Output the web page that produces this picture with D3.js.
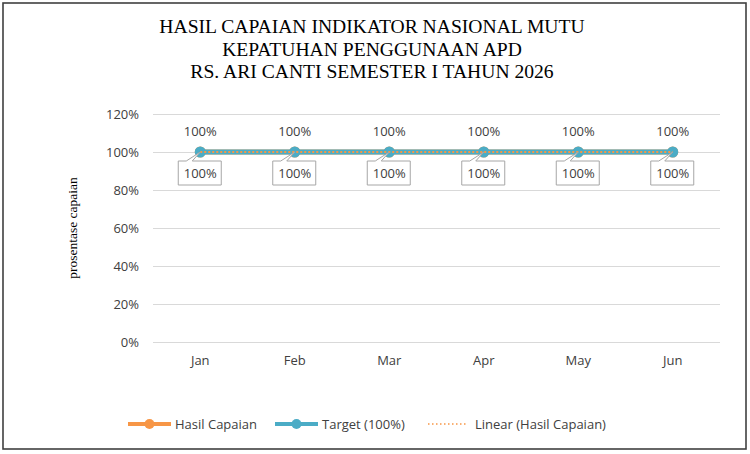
<!DOCTYPE html>
<html>
<head>
<meta charset="utf-8">
<script src="https://cdn.jsdelivr.net/npm/d3@7"></script>
<style>
  body { margin: 0; background: #fff; }
  svg { display: block; }
  text { fill: #404040; }
</style>
</head>
<body>
<div id="chart"></div>
<script>
const months = ["Jan", "Feb", "Mar", "Apr", "May", "Jun"]
const hasilCapaian = [1, 1, 1, 1, 1, 1]
const target = [1, 1, 1, 1, 1, 1]
const yTicks = [0, 0.2, 0.4, 0.6, 0.8, 1.0, 1.2]
const titleLines = [
  "HASIL CAPAIAN INDIKATOR NASIONAL MUTU",
  "KEPATUHAN PENGGUNAAN APD",
  "RS. ARI CANTI SEMESTER I TAHUN 2026"
]
const legendItems = ["Hasil Capaian", "Target (100%)", "Linear (Hasil Capaian)"]

const width = 750
const height = 454
const margin = {top: 114, right: 30, bottom: 112, left: 153}
const orange = "#F79646"
const teal = "#4BACC6"
const font = "'Open Sans', 'Noto Sans', sans-serif"

const svg = d3.select("#chart").append("svg")
  .attr("width", width)
  .attr("height", height)

// outer frame
svg.append("rect")
  .attr("x", 3).attr("y", 3)
  .attr("width", width - 7).attr("height", height - 8)
  .attr("fill", "#fff")
  .attr("stroke", "#404040")
  .attr("stroke-width", 1.6)

const x = d3.scaleBand()
  .domain(months)
  .range([margin.left, width - margin.right])

const y = d3.scaleLinear()
  .domain([0, 1.2])
  .range([height - margin.bottom, margin.top])

// title
svg.append("text")
  .attr("x", 372).attr("y", 33)
  .attr("text-anchor", "middle")
  .style("font-family", "'Liberation Serif', 'DejaVu Serif', serif")
  .style("font-size", "19.6px")
  .style("fill", "#000")
  .selectAll("tspan")
  .data(titleLines)
  .join("tspan")
  .attr("x", 372)
  .attr("dy", (d, i) => i ? 22.5 : 0)
  .text(d => d)

// y axis with gridlines
const yAxis = g => g
  .attr("transform", `translate(${margin.left}, 0)`)
  .call(d3.axisLeft(y)
    .tickValues(yTicks)
    .tickFormat(d3.format(".0%"))
    .tickSize(-(width - margin.left - margin.right))
    .tickPadding(14))
  .call(g => g.select(".domain").remove())
  .call(g => g.selectAll(".tick line")
    .attr("stroke", "#d9d9d9")
    .attr("stroke-width", 1.2))
  .call(g => g.selectAll(".tick text")
    .style("font-family", font)
    .style("font-size", "13px")
    .attr("fill", "#404040"))

svg.append("g").call(yAxis)

// x axis labels only
const xAxis = g => g
  .attr("transform", `translate(0, ${height - margin.bottom})`)
  .call(d3.axisBottom(x).tickSize(0).tickPadding(14))
  .call(g => g.select(".domain").remove())
  .call(g => g.selectAll(".tick text")
    .style("font-family", font)
    .style("font-size", "13px")
    .attr("fill", "#404040"))

svg.append("g").call(xAxis)

// y axis title
svg.append("text")
  .attr("transform", `translate(77, ${(y(0) + y(1.2)) / 2}) rotate(-90)`)
  .attr("text-anchor", "middle")
  .style("font-family", "'Liberation Serif', 'DejaVu Serif', serif")
  .style("font-size", "13.5px")
  .style("fill", "#000")
  .text("prosentase capaian")

const cx = d => x(d) + x.bandwidth() / 2

const line = d3.line()
  .x((d, i) => cx(months[i]))
  .y(d => y(d))

// Hasil Capaian series
svg.append("path")
  .datum(hasilCapaian)
  .attr("fill", "none")
  .attr("stroke", orange)
  .attr("stroke-width", 5)
  .attr("d", line)

svg.append("g").selectAll("circle")
  .data(hasilCapaian)
  .join("circle")
  .attr("cx", (d, i) => cx(months[i]))
  .attr("cy", d => y(d))
  .attr("r", 5.5)
  .attr("fill", orange)

// Target series
svg.append("path")
  .datum(target)
  .attr("fill", "none")
  .attr("stroke", teal)
  .attr("stroke-width", 5)
  .attr("d", line)

svg.append("g").selectAll("circle")
  .data(target)
  .join("circle")
  .attr("cx", (d, i) => cx(months[i]))
  .attr("cy", d => y(d))
  .attr("r", 5.5)
  .attr("fill", teal)

// linear trend of Hasil Capaian
const n = hasilCapaian.length
const xs = d3.range(1, n + 1)
const mx = d3.mean(xs), my = d3.mean(hasilCapaian)
const sxx = d3.sum(xs, v => (v - mx) ** 2)
const slope = sxx ? d3.sum(xs, (v, i) => (v - mx) * (hasilCapaian[i] - my)) / sxx : 0
const trend = xs.map(v => my + slope * (v - mx))

svg.append("path")
  .datum(trend)
  .attr("fill", "none")
  .attr("stroke", orange)
  .attr("stroke-width", 2)
  .attr("stroke-dasharray", "2,2")
  .attr("d", line)

// data labels for Hasil Capaian (above)
svg.append("g").selectAll("text")
  .data(hasilCapaian)
  .join("text")
  .attr("x", (d, i) => cx(months[i]))
  .attr("y", d => y(d) - 16)
  .attr("text-anchor", "middle")
  .style("font-family", font)
  .style("font-size", "13px")
  .text(d3.format(".0%"))

// callout labels for Target (below)
const callouts = svg.append("g").selectAll("g")
  .data(target)
  .join("g")
  .attr("transform", (d, i) => `translate(${cx(months[i])}, ${y(d)})`)

callouts.append("path")
  .attr("d", "M-22,9 L-14,9 L0,0 L-8,9 L21,9 L21,33 L-22,33 Z")
  .attr("fill", "#fff")
  .attr("stroke", "#a6a6a6")
  .attr("stroke-width", 1)

callouts.append("text")
  .attr("x", 0)
  .attr("y", 26)
  .attr("text-anchor", "middle")
  .style("font-family", font)
  .style("font-size", "13px")
  .text(d3.format(".0%"))

// legend
const legendX = [128, 275, 428]
const legend = svg.append("g")
  .attr("transform", `translate(0, 424)`)
  .selectAll("g")
  .data(legendItems)
  .join("g")
  .attr("transform", (d, i) => `translate(${legendX[i]}, 0)`)

legend.filter((d, i) => i < 2).append("line")
  .attr("x1", 0).attr("x2", 43)
  .attr("stroke", (d, i) => i ? teal : orange)
  .attr("stroke-width", 4)

legend.filter((d, i) => i < 2).append("circle")
  .attr("cx", 21.5).attr("r", 5)
  .attr("fill", (d, i) => i ? teal : orange)

legend.filter((d, i) => i === 2).append("line")
  .attr("x1", 0).attr("x2", 38)
  .attr("stroke", orange)
  .attr("stroke-width", 1.5)
  .attr("stroke-dasharray", "1.5,2.5")

legend.append("text")
  .attr("x", 47)
  .attr("dy", "0.35em")
  .style("font-family", font)
  .style("font-size", "13px")
  .text(d => d)
</script>
</body>
</html>
